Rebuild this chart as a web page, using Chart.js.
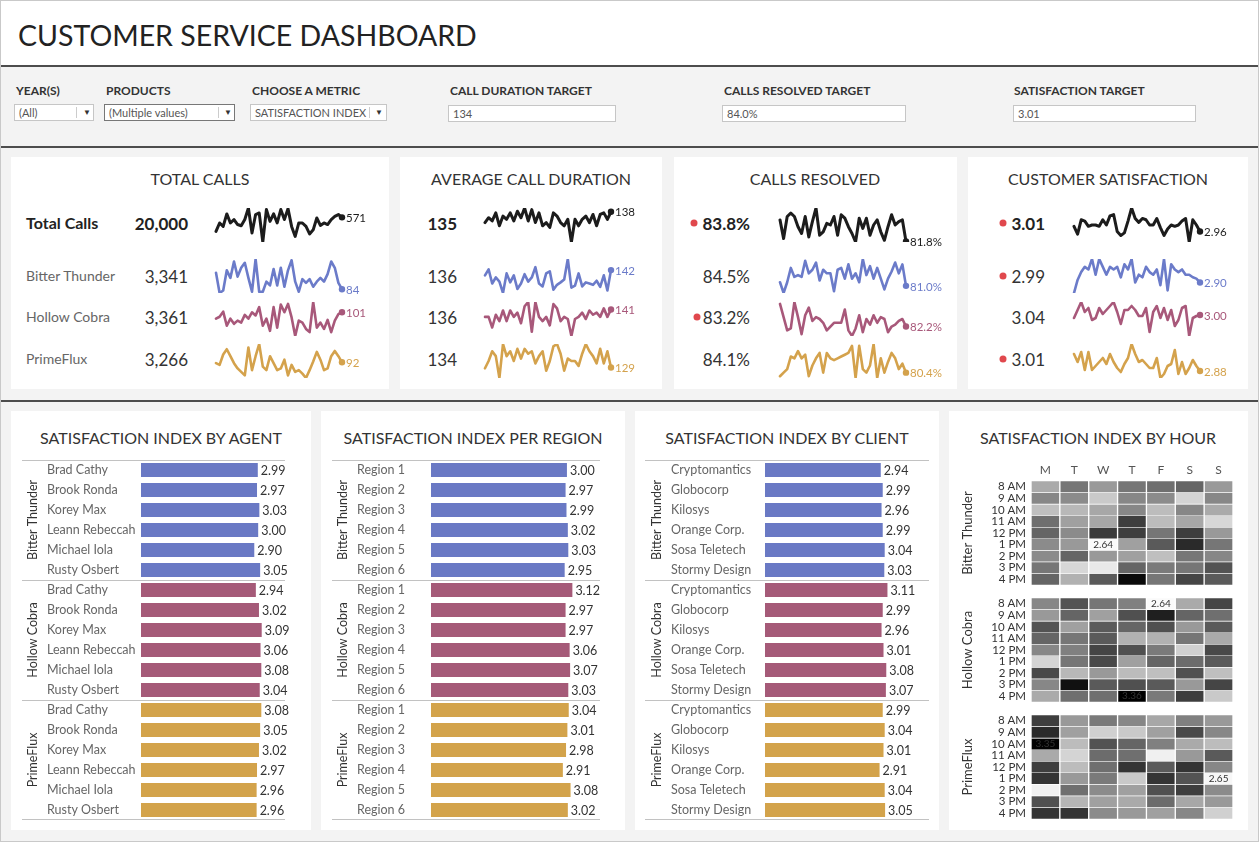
<!DOCTYPE html>
<html>
<head>
<meta charset="utf-8">
<script src="https://cdn.jsdelivr.net/npm/chart.js@4.4.1/dist/chart.umd.min.js"></script>
<style>
body { margin: 0; font-family: Lato, sans-serif; }
#dash { position: relative; width: 1259px; height: 842px; background: #f3f3f3; overflow: hidden; }
.abs { position: absolute; }
.t { position: absolute; white-space: nowrap; line-height: 1; transform: translateY(-50%); }
.r { transform: translate(-100%, -50%); }
.c { transform: translate(-50%, -50%); }
.card { position: absolute; background: #fff; }
.hr { position: absolute; left: 0; width: 1259px; height: 2px; background: #4d4d4d; }
.flab { font-size: 12px; font-weight: 700; color: #333; }
.box { position: absolute; height: 17px; background: #fff; border: 1px solid #c6c6c6; box-sizing: border-box; font-size: 11px; color: #555; line-height: 15px; padding-left: 4px; }
.box .sep { position: absolute; top: 2px; bottom: 2px; width: 1px; background: #ccc; }
.box .arr { position: absolute; top: 0; font-size: 8px; color: #333; }
.ctitle { font-size: 16px; color: #333; }
.rowlab { font-size: 14px; color: #666; }
.val { font-size: 17px; color: #333; }
.dot { position: absolute; width: 7px; height: 7px; border-radius: 50%; background: #e0484d; transform: translate(-50%, -50%); }
#frame { position: absolute; left: 0; top: 0; width: 1259px; height: 842px; border: 1px solid #c9c9c9; box-sizing: border-box; pointer-events: none; }
</style>
</head>
<body>
<div id="dash">
  <div class="abs" style="left:0;top:0;width:1259px;height:66px;background:#fff;"></div>
  <div class="t" style="left:18px;top:35px;font-size:28.5px;color:#222;font-weight:400;">CUSTOMER SERVICE DASHBOARD</div>
  <div class="hr" style="top:65px;"></div>
  <div class="hr" style="top:146px;"></div>
  <div class="hr" style="top:400px;"></div>

  <div class="t flab" style="left:16px;top:91px;">YEAR(S)</div>
  <div class="box" style="left:14px;top:104px;width:80px;">(All)<div class="sep" style="left:61px;"></div><div class="arr" style="left:68px;">&#9660;</div></div>
  <div class="t flab" style="left:106px;top:91px;">PRODUCTS</div>
  <div class="box" style="left:104px;top:104px;width:131px;border-color:#777;">(Multiple values)<div class="sep" style="left:113px;"></div><div class="arr" style="left:119px;">&#9660;</div></div>
  <div class="t flab" style="left:252px;top:91px;">CHOOSE A METRIC</div>
  <div class="box" style="left:250px;top:104px;width:137px;">SATISFACTION INDEX<div class="sep" style="left:118px;"></div><div class="arr" style="left:124px;">&#9660;</div></div>
  <div class="t flab" style="left:450px;top:91px;">CALL DURATION TARGET</div>
  <div class="box" style="left:448px;top:105px;width:168px;">134</div>
  <div class="t flab" style="left:724px;top:91px;">CALLS RESOLVED TARGET</div>
  <div class="box" style="left:722px;top:105px;width:184px;">84.0%</div>
  <div class="t flab" style="left:1014px;top:91px;">SATISFACTION TARGET</div>
  <div class="box" style="left:1013px;top:105px;width:183px;">3.01</div>

  <div class="card" style="left:11px;top:157px;width:378px;height:232px;"></div>
  <div class="card" style="left:400px;top:157px;width:262px;height:232px;"></div>
  <div class="card" style="left:674px;top:157px;width:283px;height:232px;"></div>
  <div class="card" style="left:968px;top:157px;width:280px;height:232px;"></div>

  <div class="card" style="left:11px;top:411px;width:300px;height:419px;"></div>
  <div class="card" style="left:321px;top:411px;width:304px;height:419px;"></div>
  <div class="card" style="left:635px;top:411px;width:304px;height:419px;"></div>
  <div class="card" style="left:949px;top:411px;width:299px;height:419px;"></div>

  <div class="t c ctitle" style="left:200px;top:179px;">TOTAL CALLS</div>
  <div class="t c ctitle" style="left:531px;top:179px;">AVERAGE CALL DURATION</div>
  <div class="t c ctitle" style="left:815px;top:179px;">CALLS RESOLVED</div>
  <div class="t c ctitle" style="left:1108px;top:179px;">CUSTOMER SATISFACTION</div>

  <div class="t c ctitle" style="left:161px;top:438px;">SATISFACTION INDEX BY AGENT</div>
  <div class="t c ctitle" style="left:473px;top:438px;">SATISFACTION INDEX PER REGION</div>
  <div class="t c ctitle" style="left:787px;top:438px;">SATISFACTION INDEX BY CLIENT</div>
  <div class="t c ctitle" style="left:1098px;top:438px;">SATISFACTION INDEX BY HOUR</div>

  <div id="frame"></div>
</div>
<script>
const products = ['Bitter Thunder', 'Hollow Cobra', 'PrimeFlux'];
const months = ['Jan 21','Feb 21','Mar 21','Apr 21','May 21','Jun 21','Jul 21','Aug 21','Sep 21','Oct 21','Nov 21','Dec 21',
  'Jan 22','Feb 22','Mar 22','Apr 22','May 22','Jun 22','Jul 22','Aug 22','Sep 22','Oct 22','Nov 22','Dec 22',
  'Jan 23','Feb 23','Mar 23','Apr 23','May 23','Jun 23','Jul 23','Aug 23','Sep 23','Oct 23','Nov 23','Dec 23'];

// KPI totals: [all, Bitter Thunder, Hollow Cobra, PrimeFlux]
const totalCalls = [20000, 3341, 3361, 3266];
const avgDuration = [135, 136, 136, 134];
const callsResolved = [83.8, 84.5, 83.2, 84.1];
const satisfaction = [3.01, 2.99, 3.04, 3.01];
const resolvedTarget = 84.0;
const satisfactionTarget = 3.01;

// monthly sparkline series
const callsAll = [526,553,542,582,553,564,548,544,564,601,521,580,585,492,596,558,582,553,596,564,599,542,510,553,553,542,518,531,569,545,553,548,564,574,580,571];
const callsBT = [97,81,83,99,93,106,94,101,105,93,82,108,82,82,90,87,100,87,101,86,99,107,90,82,92,89,92,86,90,93,90,96,106,101,89,84];
const callsHC = [91,94,102,80,91,83,88,85,97,91,101,96,109,80,91,72,109,77,113,101,114,93,64,88,85,75,70,117,77,85,75,89,70,88,98,101];
const callsPF = [91,89,101,107,99,91,85,81,77,109,83,99,113,87,83,99,91,83,85,95,77,89,81,83,79,74,83,93,104,95,83,85,99,105,99,92];

const durAll = [134.0,135.8,134.6,137.6,132.8,136.4,135.2,137.6,134.6,138.2,135.8,139.4,134.6,138.8,134.0,137.6,132.8,134.0,132.2,137.6,136.4,134.0,132.8,135.2,126.8,135.2,132.8,135.2,136.4,134.0,137.0,132.8,137.0,137.6,135.2,138.0];
const durBT = [138.8,142.5,133.8,137.5,135.0,128.0,140.0,134.5,138.8,130.5,133.8,139.5,135.0,137.5,143.8,133.8,132.0,140.0,141.3,130.0,133.0,134.5,136.3,148.8,131.3,132.5,140.0,132.0,134.5,133.8,133.0,135.5,131.8,138.8,129.5,142.0];
const durHC = [137.2,137.2,131.7,138.3,135.0,140.5,135.0,140.5,137.2,139.4,133.9,142.7,144.9,129.5,144.9,137.2,135.0,137.2,132.8,143.8,141.6,135.0,137.2,136.1,127.3,136.1,137.2,139.4,136.1,140.5,138.3,139.4,137.2,141.6,137.2,141.0];
const durPF = [128.5,133.0,139.0,136.0,122.5,143.5,136.0,139.0,133.0,140.5,134.5,140.5,137.5,139.0,131.5,136.0,139.0,127.0,133.0,142.0,143.5,137.5,127.0,134.5,133.0,133.0,130.0,137.5,143.5,139.0,136.0,131.5,140.5,131.5,139.0,129.0];

const resAll = [85.6,82.3,86.2,86.8,86.2,84.4,83.2,86.2,82.6,85.3,87.7,82.9,83.5,85.0,84.7,86.2,82.9,86.5,85.9,84.4,83.2,81.7,85.9,84.1,85.9,82.9,84.7,85.6,83.5,82.0,84.4,86.5,84.7,85.3,85.6,81.8];
const resBT = [82.2,78.6,82.2,87.0,84.0,84.6,84.0,89.4,85.2,86.4,88.8,82.8,86.4,85.2,85.2,79.2,86.4,87.0,83.4,88.2,83.4,85.2,82.2,90.0,84.6,87.6,83.4,87.0,83.4,79.8,83.4,85.8,88.8,85.2,88.2,81.0];
const resHC = [89.4,85.2,81.0,81.6,90.0,85.2,79.8,85.8,88.2,84.0,85.2,84.6,83.4,81.0,82.2,83.4,83.4,83.4,87.6,81.0,79.2,81.6,85.8,80.4,84.6,82.8,85.8,83.4,85.2,84.6,80.4,82.2,82.8,84.0,84.6,82.2];
const resPF = [79.2,80.4,81.6,85.8,85.2,87.6,85.2,86.4,79.2,82.8,85.2,87.0,80.4,87.0,85.2,84.6,85.2,85.8,86.4,87.0,89.4,78.6,89.4,81.6,80.4,82.8,90.0,78.6,85.2,80.4,84.0,87.0,85.2,81.6,83.4,80.4];

const satAll = [3.00,2.94,3.05,3.04,3.00,3.01,3.01,3.00,3.05,3.01,3.08,3.09,2.96,2.93,2.95,3.04,3.14,3.06,3.03,3.06,3.05,3.01,3.01,3.06,2.99,2.93,2.98,3.01,3.00,3.01,3.04,3.06,2.88,3.05,3.01,2.96];
const satBT = [2.82,2.92,2.98,3.02,3.00,3.08,2.96,3.08,3.02,2.96,3.02,3.00,3.02,2.94,3.04,3.00,3.08,2.90,2.96,2.94,3.02,2.98,2.96,3.00,2.88,3.08,2.84,3.04,3.00,2.98,3.00,2.96,2.96,2.94,2.93,2.90];
const satHC = [2.97,3.05,3.13,3.03,3.07,2.95,2.97,3.07,3.01,3.05,3.09,3.13,3.03,2.91,3.05,3.05,3.09,3.05,2.99,2.99,3.07,2.83,3.03,3.09,2.97,3.07,2.95,3.05,2.89,2.95,3.07,3.09,2.79,2.97,2.99,3.00];
const satPF = [3.05,2.97,3.07,2.89,3.07,2.89,2.93,2.97,3.01,2.95,3.05,2.97,2.91,2.87,2.95,3.01,3.15,3.05,2.97,2.99,2.95,2.91,2.91,3.01,2.81,2.85,2.93,2.95,3.09,2.85,2.97,2.85,2.91,2.99,2.93,2.88];

// satisfaction index by agent / region / client
const agents = ['Brad Cathy','Brook Ronda','Korey Max','Leann Rebeccah','Michael Iola','Rusty Osbert'];
const agentBT = [2.99,2.97,3.03,3.00,2.90,3.05];
const agentHC = [2.94,3.02,3.09,3.06,3.08,3.04];
const agentPF = [3.08,3.05,3.02,2.97,2.96,2.96];
const regions = ['Region 1','Region 2','Region 3','Region 4','Region 5','Region 6'];
const regionBT = [3.00,2.97,2.99,3.02,3.03,2.95];
const regionHC = [3.12,2.97,2.97,3.06,3.07,3.03];
const regionPF = [3.04,3.01,2.98,2.91,3.08,3.02];
const clients = ['Cryptomantics','Globocorp','Kilosys','Orange Corp.','Sosa Teletech','Stormy Design'];
const clientBT = [2.94,2.99,2.96,2.99,3.04,3.03];
const clientHC = [3.11,2.99,2.96,3.01,3.08,3.07];
const clientPF = [2.99,3.04,3.01,2.91,3.04,3.05];

// satisfaction index by hour (rows) and weekday (columns)
const days = ['M','T','W','T','F','S','S'];
const hours = ['8 AM','9 AM','10 AM','11 AM','12 PM','1 PM','2 PM','3 PM','4 PM'];
const hourBT = [
  [2.87,3.02,2.92,3.02,3.04,3.07,2.92],
  [2.97,2.96,2.78,2.97,2.96,2.75,2.97],
  [2.81,2.83,2.88,2.97,2.82,2.97,2.87],
  [3.04,2.90,2.88,3.18,2.82,2.88,2.74],
  [3.07,2.96,3.19,3.18,3.02,3.18,2.92],
  [2.96,2.92,2.64,2.90,3.10,3.24,3.02],
  [2.96,3.07,2.92,2.90,2.81,3.02,2.97],
  [3.02,2.74,2.69,3.07,3.01,3.02,3.12],
  [3.07,2.85,3.10,3.33,3.02,3.16,3.10]];
const hourHC = [
  [2.97,3.12,3.02,2.99,2.64,2.87,3.16],
  [2.92,3.07,2.90,3.13,3.27,3.07,3.04],
  [3.12,2.90,3.10,3.07,3.13,2.92,3.10],
  [3.07,3.02,3.10,2.85,2.85,3.02,2.87],
  [2.97,2.99,3.16,3.13,3.01,2.76,3.15],
  [2.75,3.02,3.15,2.90,3.07,3.05,3.10],
  [3.15,2.83,2.92,2.82,2.81,3.13,2.81],
  [2.97,3.31,3.10,3.13,3.10,2.92,3.16],
  [2.87,3.04,3.04,3.36,3.01,3.18,2.78]];
const hourPF = [
  [3.18,2.92,3.01,2.97,2.88,2.99,2.92],
  [3.24,2.90,2.76,2.78,2.90,3.15,2.97],
  [3.35,2.82,3.12,3.07,2.99,2.87,2.82],
  [2.87,2.75,3.05,3.04,2.67,2.92,3.10],
  [3.18,2.82,3.04,3.21,3.10,3.21,2.97],
  [3.21,2.92,3.01,2.78,3.21,3.12,2.65],
  [2.67,3.04,2.96,2.90,3.13,3.18,2.96],
  [3.13,2.84,2.90,2.87,3.05,2.88,2.92],
  [3.21,3.21,2.96,2.92,2.90,2.97,2.76]];

const lineColors = ['#1c1c1c', '#6b7bc9', '#a8587a', '#d4a24c'];
const barColors = ['#6a79c4', '#a55a78', '#d3a34b'];

Chart.defaults.font.family = 'Lato, sans-serif';
const dash = document.getElementById('dash');

function addCanvas(left, top, w, h) {
  const c = document.createElement('canvas');
  c.width = w; c.height = h;
  c.style.cssText = 'position:absolute;left:' + left + 'px;top:' + top + 'px;';
  dash.insertBefore(c, document.getElementById('frame'));
  return c;
}
function addText(cls, left, top, text, extra) {
  const d = document.createElement('div');
  d.className = 't ' + cls;
  d.style.cssText = 'left:' + left + 'px;top:' + top + 'px;' + (extra || '');
  d.textContent = text;
  dash.insertBefore(d, document.getElementById('frame'));
}
function addDot(left, top) {
  const d = document.createElement('div');
  d.className = 'dot';
  d.style.cssText = 'left:' + left + 'px;top:' + top + 'px;';
  dash.insertBefore(d, document.getElementById('frame'));
}
function noPad(s) { s.paddingTop = 0; s.paddingBottom = 0; }

// ---------- KPI cards ----------
const rowY = [223, 276, 317, 359];
const sparkTop = [204, 255, 298, 340];
const fmtInt = v => v.toLocaleString('en-US');
const fmtPct = v => v.toFixed(1) + '%';
const fmtDec = v => v.toFixed(2);

addText('', 26, rowY[0], 'Total Calls', 'font-size:16px;font-weight:700;color:#222;');
products.forEach((p, i) => addText('rowlab', 26, rowY[i + 1], p));
totalCalls.forEach((v, i) => addText('r val', 188, rowY[i], fmtInt(v), i === 0 ? 'font-weight:700;font-size:17px;color:#222;' : ''));
avgDuration.forEach((v, i) => addText('r val', 457, rowY[i], String(v), i === 0 ? 'font-weight:700;color:#222;' : ''));
callsResolved.forEach((v, i) => {
  addText('r val', 750, rowY[i], fmtPct(v), i === 0 ? 'font-weight:700;color:#222;' : '');
  if (v <= resolvedTarget) addDot(i === 0 ? 694 : 697, rowY[i]);
});
satisfaction.forEach((v, i) => {
  addText('r val', 1045, rowY[i], fmtDec(v), i === 0 ? 'font-weight:700;color:#222;' : '');
  if (v <= satisfactionTarget) addDot(1003, rowY[i]);
});

function spark(left, row, data, fmt) {
  const color = lineColors[row];
  const c = addCanvas(left - 3, sparkTop[row], 182, 42);
  const last = data.length - 1;
  new Chart(c, {
    type: 'line',
    data: { labels: months, datasets: [{
      data: data, borderColor: color, backgroundColor: color,
      borderWidth: row === 0 ? 3 : 2.6, tension: 0,
      borderJoinStyle: 'round', borderCapStyle: 'round',
      pointRadius: data.map((v, i) => i === last ? 3.2 : 0), pointBorderWidth: 0
    }] },
    options: {
      responsive: false, animation: false, events: [],
      layout: { padding: { left: 3, right: 52, top: 3, bottom: 3 } },
      plugins: { legend: { display: false }, tooltip: { enabled: false } },
      scales: {
        x: { display: false },
        y: { display: false, min: Math.min(...data), max: Math.max(...data) }
      }
    },
    plugins: [{
      id: 'endLabel',
      afterDatasetsDraw(ch) {
        const p = ch.getDatasetMeta(0).data[last];
        const ctx = ch.ctx;
        ctx.save();
        ctx.font = '11.5px Lato, sans-serif';
        ctx.fillStyle = color;
        ctx.textBaseline = 'middle';
        ctx.fillText(fmt(data[last]), p.x + 4, p.y + 1);
        ctx.restore();
      }
    }]
  });
}
[callsAll, callsBT, callsHC, callsPF].forEach((d, r) => spark(215, r, d, fmtInt));
[durAll, durBT, durHC, durPF].forEach((d, r) => spark(484, r, d, v => v.toFixed(0)));
[resAll, resBT, resHC, resPF].forEach((d, r) => spark(779, r, d, fmtPct));
[satAll, satBT, satHC, satPF].forEach((d, r) => spark(1073, r, d, fmtDec));

// ---------- bar panels ----------
function barPanel(o) {
  const c = addCanvas(o.left, 460, o.width, 360);
  const labels = o.cats.concat(o.cats, o.cats);
  const vals = o.bt.concat(o.hc, o.pf);
  new Chart(c, {
    type: 'bar',
    data: { labels: labels, datasets: [{
      data: vals, backgroundColor: vals.map((v, i) => barColors[Math.floor(i / 6)]),
      barPercentage: 0.7, categoryPercentage: 1
    }] },
    options: {
      indexAxis: 'y', responsive: false, animation: false, events: [],
      layout: { padding: { left: o.groupW, right: o.width - o.groupW - o.axisW - o.barW, top: 0, bottom: 0 } },
      plugins: { legend: { display: false }, tooltip: { enabled: false } },
      scales: {
        x: { display: false, min: 0, max: 3.2 },
        y: {
          grid: { display: false, drawTicks: false }, border: { display: false },
          ticks: { crossAlign: 'far', color: '#666', font: { size: 12.5 }, padding: 0, autoSkip: false },
          afterFit(s) { s.width = o.axisW; noPad(s); }
        }
      }
    },
    plugins: [{
      id: 'groups',
      afterDatasetsDraw(ch) {
        const ctx = ch.ctx, a = ch.chartArea;
        const step = (a.bottom - a.top) / 18;
        ctx.save();
        ctx.font = '12.5px Lato, sans-serif';
        ctx.fillStyle = '#333';
        ctx.textBaseline = 'middle';
        ch.getDatasetMeta(0).data.forEach((b, i) => ctx.fillText(vals[i].toFixed(2), b.x + 3, b.y + 1));
        ctx.strokeStyle = '#c2c2c2';
        ctx.lineWidth = 1;
        for (let g = 0; g <= 3; g++) {
          const y = Math.min(a.top + g * 6 * step, a.bottom - 1) + 0.5;
          ctx.beginPath(); ctx.moveTo(0, y); ctx.lineTo(o.lineW, y); ctx.stroke();
        }
        ctx.textAlign = 'center';
        products.forEach((p, g) => {
          ctx.save();
          ctx.translate(o.groupX, a.top + (g * 6 + 3) * step);
          ctx.rotate(-Math.PI / 2);
          ctx.fillText(p, 0, 0);
          ctx.restore();
        });
        ctx.restore();
      }
    }]
  });
}
barPanel({ left: 22, width: 285, groupW: 25, axisW: 94, barW: 125, groupX: 11, lineW: 263, cats: agents, bt: agentBT, hc: agentHC, pf: agentPF });
barPanel({ left: 332, width: 285, groupW: 25, axisW: 74, barW: 145, groupX: 11, lineW: 268, cats: regions, bt: regionBT, hc: regionHC, pf: regionPF });
barPanel({ left: 645, width: 290, groupW: 26, axisW: 94, barW: 126, groupX: 12, lineW: 284, cats: clients, bt: clientBT, hc: clientHC, pf: clientPF });

// ---------- heatmaps ----------
function gray(v) {
  const l = Math.max(0, Math.min(250, Math.round((3.36 - v) / 0.72 * 250)));
  return 'rgb(' + l + ',' + l + ',' + l + ')';
}
function heat(top, height, matrix, name, showDays) {
  const c = addCanvas(960, top, 280, height);
  new Chart(c, {
    type: 'bar',
    data: { labels: days, datasets: hours.map((h, i) => ({
      label: h, data: days.map(() => 1), backgroundColor: matrix[i].map(gray),
      borderColor: '#fff', borderWidth: { top: 0.6, bottom: 0.6, left: 1, right: 1 }, borderSkipped: false,
      barPercentage: 1, categoryPercentage: 1
    })) },
    options: {
      responsive: false, animation: false, events: [],
      layout: { padding: { right: 7, top: 0, bottom: 0 } },
      plugins: { legend: { display: false }, tooltip: { enabled: false } },
      scales: {
        x: {
          stacked: true, position: 'top', display: showDays,
          grid: { display: false, drawTicks: false }, border: { display: false },
          ticks: { color: '#555', font: { size: 12 }, padding: 4 },
          afterFit(s) { s.height = showDays ? 21 : 0; s.paddingLeft = 0; s.paddingRight = 0; }
        },
        y: {
          stacked: true, min: 0, max: 9, reverse: true,
          grid: { display: false, drawTicks: false }, border: { display: false },
          afterBuildTicks(s) { s.ticks = hours.map((h, i) => ({ value: i + 0.5 })); },
          ticks: { callback: (v, i) => hours[i], color: '#333', font: { size: 11.5 }, padding: 5, autoSkip: false },
          title: { display: true, text: name, color: '#333', font: { size: 13 }, padding: 0 },
          afterFit(s) { s.width = 71; noPad(s); }
        }
      }
    },
    plugins: [{
      id: 'minmax',
      afterDatasetsDraw(ch) {
        const ctx = ch.ctx;
        ctx.save();
        ctx.font = '10px Lato, sans-serif';
        ctx.fillStyle = '#333';
        ctx.textAlign = 'center';
        ctx.textBaseline = 'middle';
        matrix.forEach((row, i) => row.forEach((v, j) => {
          if (v <= 2.65 || v >= 3.35) {
            const b = ch.getDatasetMeta(i).data[j];
            ctx.fillText(v.toFixed(2), b.x, (b.y + b.base) / 2);
          }
        }));
        ctx.restore();
      }
    }]
  });
}
heat(460, 125, hourBT, products[0], true);
heat(598, 104, hourHC, products[1], false);
heat(715, 104, hourPF, products[2], false);
</script>
</body>
</html>
